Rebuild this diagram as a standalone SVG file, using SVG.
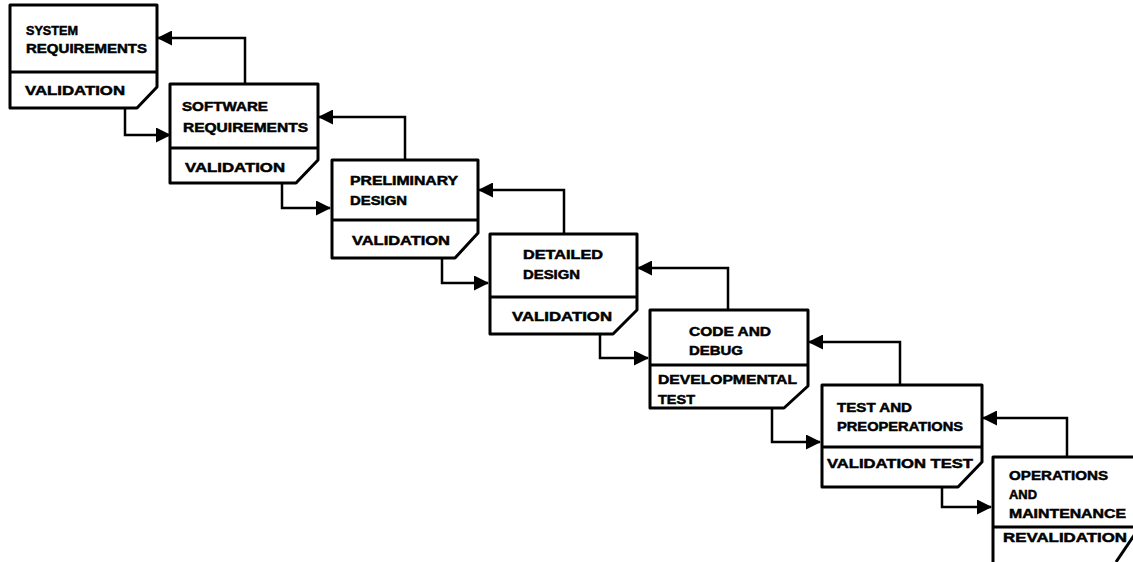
<svg xmlns="http://www.w3.org/2000/svg" width="1133" height="562" viewBox="0 0 1133 562">
<style>
.box{fill:#fff;stroke:#000;stroke-width:3;stroke-linejoin:round}
.div{stroke:#000;stroke-width:3;fill:none}
.con{stroke:#000;stroke-width:2.5;fill:none;marker-end:url(#ah)}
text{font-family:"Liberation Sans",Arial,sans-serif;font-weight:bold;font-size:13px;fill:#000;stroke:#000;stroke-width:0.5}
.v{font-size:13.5px}
</style>
<defs>
<marker id="ah" markerUnits="userSpaceOnUse" markerWidth="15" markerHeight="15" refX="14" refY="7.5" orient="auto">
<path d="M0,0 L15,7.5 L0,15 z" fill="#000"/>
</marker>
</defs>
<rect width="1133" height="562" fill="#fff"/>
<g id="connectors">
<polyline class="con" points="125,108 125,135 170,135"/>
<polyline class="con" points="282,183 282,208 330,208"/>
<polyline class="con" points="442,258 442,283 488,283"/>
<polyline class="con" points="600,334 600,358 648,358"/>
<polyline class="con" points="772,408 772,442 820,442"/>
<polyline class="con" points="942,487 942,507 991,507"/>
<polyline class="con" points="245,84 245,38 158,38"/>
<polyline class="con" points="405,160 405,117 319,117"/>
<polyline class="con" points="564,234 564,190 479,190"/>
<polyline class="con" points="728,310 728,268 638,268"/>
<polyline class="con" points="900,385 900,342 809,342"/>
<polyline class="con" points="1067,457 1067,418 983,418"/>
</g>
<g id="n1">
<path class="box" d="M10,5 H157 V87 L137,108 H10 Z"/>
<line class="div" x1="10" y1="72" x2="157" y2="72"/>
<text x="26" y="35" textLength="52" lengthAdjust="spacingAndGlyphs">SYSTEM</text>
<text x="26" y="53" textLength="121" lengthAdjust="spacingAndGlyphs">REQUIREMENTS</text>
<text class="v" x="25" y="95" textLength="100" lengthAdjust="spacingAndGlyphs">VALIDATION</text>
</g>
<g id="n2">
<path class="box" d="M170,84 H318 V160 L296,183 H170 Z"/>
<line class="div" x1="170" y1="148" x2="318" y2="148"/>
<text x="182" y="111" textLength="86" lengthAdjust="spacingAndGlyphs">SOFTWARE</text>
<text x="183" y="132" textLength="125" lengthAdjust="spacingAndGlyphs">REQUIREMENTS</text>
<text class="v" x="185" y="172" textLength="100" lengthAdjust="spacingAndGlyphs">VALIDATION</text>
</g>
<g id="n3">
<path class="box" d="M332,160 H478 V233 L455,258 H332 Z"/>
<line class="div" x1="332" y1="220" x2="478" y2="220"/>
<text x="350" y="185" textLength="108" lengthAdjust="spacingAndGlyphs">PRELIMINARY</text>
<text x="350" y="205" textLength="57" lengthAdjust="spacingAndGlyphs">DESIGN</text>
<text class="v" x="352" y="245" textLength="98" lengthAdjust="spacingAndGlyphs">VALIDATION</text>
</g>
<g id="n4">
<path class="box" d="M490,234 H637 V310 L613,334 H490 Z"/>
<line class="div" x1="490" y1="297" x2="637" y2="297"/>
<text x="523" y="259" textLength="80" lengthAdjust="spacingAndGlyphs">DETAILED</text>
<text x="523" y="279" textLength="57" lengthAdjust="spacingAndGlyphs">DESIGN</text>
<text class="v" x="512" y="321" textLength="100" lengthAdjust="spacingAndGlyphs">VALIDATION</text>
</g>
<g id="n5">
<path class="box" d="M650,310 H808 V386 L784,408 H650 Z"/>
<line class="div" x1="650" y1="365" x2="808" y2="365"/>
<text x="689" y="336" textLength="82" lengthAdjust="spacingAndGlyphs">CODE AND</text>
<text x="689" y="355" textLength="54" lengthAdjust="spacingAndGlyphs">DEBUG</text>
<text class="v" x="658" y="384" textLength="139" lengthAdjust="spacingAndGlyphs">DEVELOPMENTAL</text>
<text class="v" x="658" y="404" textLength="37" lengthAdjust="spacingAndGlyphs">TEST</text>
</g>
<g id="n6">
<path class="box" d="M822,385 H982 V462 L958,487 H822 Z"/>
<line class="div" x1="822" y1="447" x2="982" y2="447"/>
<text x="837" y="412" textLength="75" lengthAdjust="spacingAndGlyphs">TEST AND</text>
<text x="837" y="431" textLength="126" lengthAdjust="spacingAndGlyphs">PREOPERATIONS</text>
<text class="v" x="827" y="468" textLength="146" lengthAdjust="spacingAndGlyphs">VALIDATION TEST</text>
</g>
<g id="n7">
<path class="box" d="M993,570 V457 H1145"/>
<line class="div" x1="993" y1="527" x2="1140" y2="527"/>
<line class="div" x1="1135" y1="534" x2="1116" y2="562"/>
<text x="1009" y="480" textLength="99" lengthAdjust="spacingAndGlyphs">OPERATIONS</text>
<text x="1009" y="499" textLength="28" lengthAdjust="spacingAndGlyphs">AND</text>
<text x="1009" y="518" textLength="117" lengthAdjust="spacingAndGlyphs">MAINTENANCE</text>
<text class="v" x="1003" y="542" textLength="124" lengthAdjust="spacingAndGlyphs">REVALIDATION</text>
</g>
</svg>
